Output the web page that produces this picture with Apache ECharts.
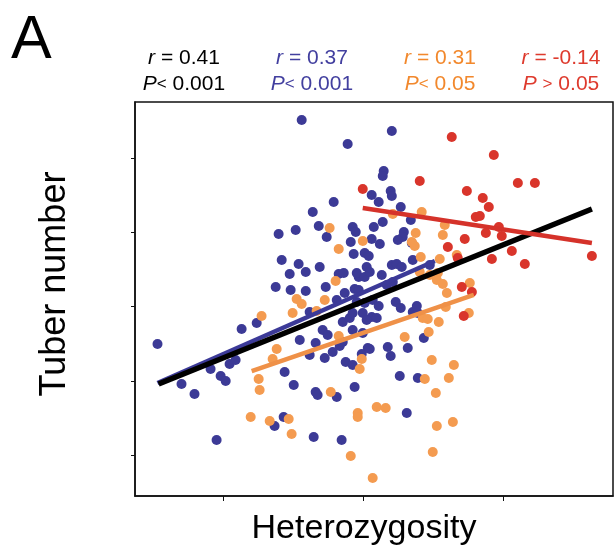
<!DOCTYPE html>
<html>
<head>
<meta charset="utf-8">
<script src="https://cdn.jsdelivr.net/npm/echarts@6/dist/echarts.min.js"></script>
<style>
  html, body { margin: 0; padding: 0; background: #fff; }
  #chart { width: 614px; height: 556px; }
</style>
</head>
<body>
<div id="chart"></div>
<script>
// Axis ticks (no tick labels are drawn)
const xTicks = [20, 30, 40];
const yTicks = [10, 20, 30, 40, 50];
const xRange = [13.68, 47.89];
const yRange = [4.48, 57.54];

// Heterozygosity vs. tuber number, one array per group
const bluePoints = [
  [25.61,55.12],[28.90,51.89],[32.06,53.64],[31.48,48.25],[31.41,47.58],[30.62,45.02],[31.98,45.56],
  [32.06,44.88],[31.12,44.07],[27.90,44.07],[26.40,42.73],[32.70,43.40],[23.96,39.76],[25.18,40.30],
  [26.83,40.84],[27.40,39.36],[29.26,40.71],[29.48,40.03],[30.77,40.71],[31.41,41.38],[33.42,41.65],
  [32.92,40.03],[32.84,39.36],[29.12,38.69],[30.62,39.09],[32.49,38.96],[29.33,37.07],[30.12,37.21],
  [30.41,36.80],[31.20,38.42],[33.49,38.55],[24.18,36.26],[25.39,35.72],[26.90,35.32],[24.75,34.38],
  [25.90,34.65],[28.26,34.38],[28.62,34.51],[29.69,33.97],[32.06,35.59],[32.41,35.72],[32.77,35.32],
  [33.56,36.26],[34.78,35.59],[30.26,35.32],[29.55,34.51],[30.12,33.97],[30.48,34.65],[31.34,34.24],
  [32.13,33.30],[31.70,32.90],[29.40,32.36],[29.55,30.61],[30.12,30.47],[30.69,30.88],[32.34,30.61],
  [32.70,29.80],[31.12,30.07],[33.56,29.26],[33.92,29.12],[33.85,30.07],[30.62,28.59],[30.98,28.45],
  [23.75,32.63],[24.82,32.22],[25.90,32.09],[27.33,32.63],[28.69,31.82],[29.69,32.22],[28.12,30.88],
  [26.18,29.26],[22.39,27.78],[25.47,25.49],[26.61,25.08],[26.18,23.47],[27.26,23.06],[27.11,26.84],
  [27.47,26.16],[27.83,23.87],[28.33,24.68],[28.55,25.22],[28.76,22.53],[29.26,22.12],[28.55,27.91],
  [29.05,28.45],[29.26,29.12],[29.98,29.12],[30.26,28.18],[29.98,26.43],[30.34,24.41],[29.26,26.84],
  [29.91,23.60],[30.48,24.28],[31.77,24.55],[31.98,23.33],[33.20,24.41],[34.35,25.76],[15.29,24.95],
  [17.01,19.56],[17.94,18.22],[19.09,21.58],[19.81,20.64],[20.17,19.97],[20.45,22.26],[20.88,22.79],
  [21.31,26.97],[19.52,12.02],[24.39,21.18],[25.04,19.43],[26.61,18.48],[26.75,18.08],[28.12,17.81],
  [29.40,19.16],[24.32,15.12],[23.67,13.91],[26.47,12.42],[28.47,12.02],[33.13,15.66],[32.63,20.64],
  [33.92,20.37]
];

const orangePoints = [
  [27.61,40.57],[29.98,38.82],[28.26,37.74],[28.04,33.43],[32.13,42.46],[34.20,42.73],[35.85,40.98],
  [35.71,39.63],[33.77,39.90],[33.49,38.69],[33.70,38.15],[34.13,36.67],[35.49,36.40],[36.71,36.94],
  [34.06,34.65],[34.78,34.24],[35.35,34.51],[35.28,33.57],[35.71,33.03],[36.00,31.82],[37.64,33.16],
  [35.92,29.93],[37.57,29.12],[35.42,27.91],[34.27,28.45],[34.63,28.32],[34.70,26.57],[32.98,25.89],
  [34.92,22.79],[36.50,22.12],[34.42,20.24],[36.14,20.37],[35.21,18.35],[30.98,16.46],[31.62,16.33],
  [29.62,15.66],[29.62,15.12],[35.28,13.91],[36.43,14.44],[29.12,9.87],[34.99,10.40],[30.69,6.90],
  [29.91,22.93],[29.76,21.58],[28.26,26.03],[27.69,18.48],[25.25,31.01],[25.61,30.34],[24.96,29.12],
  [26.68,29.39],[27.26,30.88],[22.74,28.72],[23.82,24.28],[23.53,22.93],[22.53,20.24],[22.60,18.75],
  [21.96,15.12],[23.32,14.58],[24.68,14.85],[24.89,12.83]
];

const redPoints = [
  [29.98,45.82],[36.35,52.83],[39.36,50.40],[34.06,46.90],[41.08,46.63],[42.30,46.63],[37.43,45.56],
  [38.57,44.61],[39.00,43.40],[38.07,42.05],[38.36,42.19],[39.72,40.71],[38.79,39.90],[39.93,39.49],
  [37.28,39.09],[36.07,38.01],[40.65,37.47],[39.22,36.40],[41.58,35.72],[46.38,36.80],[36.78,36.53],
  [37.07,32.63],[37.79,31.95],[37.21,28.72]
];

// Least-squares fit lines (start and end of each fitted segment)
const fitAll = [[15.37,19.56],[46.38,43.13]];
const fitBlue = [[15.29,19.70],[35.14,36.13]];
const fitOrange = [[22.03,21.31],[37.93,31.55]];
const fitRed = [[29.98,43.27],[46.38,38.55]];

// Correlation statistics shown above the plot
const statR = ['0.41', '0.37', '0.31', '-0.14'];
const statSign = ['<', '<', '<', '>'];
const statP = ['0.001', '0.001', '0.05', '0.05'];

const FONT = '"Liberation Sans", Arial, Helvetica, sans-serif';
const COL = {
  blue: '#3c3a96', orange: '#f49b50', red: '#d9352b',
  blueLine: '#3c3a98', orangeLine: '#ef9148', redLine: '#d5322a',
  blueText: '#423f9f', orangeText: '#f2882c', redText: '#de3a2d'
};
const statColors = ['#000000', COL.blueText, COL.orangeText, COL.redText];
const statCenters = [184, 312, 440, 561];

const graphics = [
  { type: 'text', left: 11, top: 11, style: { text: 'A', font: '61px ' + FONT, fill: '#000' } },
  { type: 'text', x: 55, y: 284, rotation: Math.PI / 2,
    style: { text: 'Tuber number', font: '36px ' + FONT, fill: '#000', align: 'center', verticalAlign: 'middle' } },
  { type: 'text', x: 364, y: 529,
    style: { text: 'Heterozygosity', font: '34px ' + FONT, fill: '#000', align: 'center', verticalAlign: 'middle' } }
];
statR.forEach((r, i) => {
  const rich = {
    it: { fontStyle: 'italic', fontSize: 21, fontFamily: FONT, fill: statColors[i] },
    n: { fontSize: 21, fontFamily: FONT, fill: statColors[i] },
    s: { fontSize: 17, fontFamily: FONT, fill: statColors[i] }
  };
  graphics.push({ type: 'text', x: statCenters[i], y: 58,
    style: { text: '{it|r}{n| = ' + r + '}', rich, align: 'center', verticalAlign: 'middle', fill: statColors[i] } });
  const gap = statSign[i] === '>' ? ' ' : '';
  graphics.push({ type: 'text', x: statCenters[i], y: 84,
    style: { text: '{it|P}{n|' + gap + '}{s|' + statSign[i] + '}{n| ' + statP[i] + '}', rich,
      align: 'center', verticalAlign: 'middle', fill: statColors[i] } });
});

function scatter(data, color) {
  return { type: 'scatter', data, symbol: 'circle', symbolSize: 10,
    itemStyle: { color, opacity: 1 }, silent: true };
}
function fitLine(data, color, width) {
  return { type: 'line', data, showSymbol: false, symbol: 'none',
    lineStyle: { color, width, cap: 'butt' }, silent: true, z: 3 };
}

const chart = echarts.init(document.getElementById('chart'), null, { renderer: 'canvas' });
chart.setOption({
  animation: false,
  backgroundColor: '#fff',
  grid: { left: 135, right: 1, top: 102, bottom: 60, show: true, borderColor: '#111', borderWidth: 1.5, backgroundColor: 'transparent' },
  xAxis: {
    type: 'value', min: xRange[0], max: xRange[1],
    axisLine: { show: true, onZero: false, lineStyle: { color: '#111', width: 1.5 } },
    axisTick: { show: true, inside: false, length: 5, customValues: xTicks, lineStyle: { color: '#111', width: 1 } },
    axisLabel: { show: false }, splitLine: { show: false }
  },
  yAxis: {
    type: 'value', min: yRange[0], max: yRange[1],
    axisLine: { show: true, onZero: false, lineStyle: { color: '#111', width: 1.5 } },
    axisTick: { show: true, inside: false, length: 4, customValues: yTicks, lineStyle: { color: '#111', width: 1 } },
    axisLabel: { show: false }, splitLine: { show: false }
  },
  graphic: graphics,
  series: [
    scatter(bluePoints, COL.blue),
    scatter(orangePoints, COL.orange),
    scatter(redPoints, COL.red),
    fitLine(fitOrange, COL.orangeLine, 4.5),
    fitLine(fitBlue, COL.blueLine, 4.5),
    fitLine(fitAll, '#000000', 5.5),
    fitLine(fitRed, COL.redLine, 4.5)
  ]
});
</script>
</body>
</html>
